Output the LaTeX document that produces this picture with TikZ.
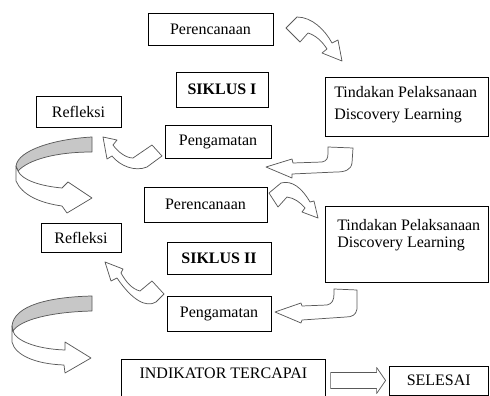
\documentclass[tikz,border=0pt]{standalone}
\usepackage{fontspec}
\setmainfont{Liberation Serif}
\usepackage{tikz}
\tikzset{
	box/.style={draw, line width=0.6pt, inner sep=0pt, font=\fontsize{12pt}{14pt}\selectfont},
	txt/.style={inner sep=0pt, font=\fontsize{12pt}{14pt}\selectfont},
	blockarrow/.style={draw=black!65, fill=white, line width=0.55pt, line join=round},
	backband/.style={draw=black!65, fill=black!22, line width=0.55pt, line join=round}
}

\begin{document}
\begin{tikzpicture}[x=0.75pt, y=-0.75pt]
	\useasboundingbox (0,0) rectangle (490,396);
	\clip (0,0) rectangle (490,396);

	% siklus I
	\node[box, minimum width=93.75pt, minimum height=24pt] (plan1) at (210.5,29) {Perencanaan};
	\node[box, minimum width=69pt, minimum height=26.25pt] (siklus1) at (222,89.5) {\bfseries SIKLUS I};
	\node[box, minimum width=63.75pt, minimum height=23.25pt] (refl1) at (78.5,111.5) {Refleksi};
	\node[box, minimum width=79.5pt, minimum height=24.75pt] (amat1) at (218,141.5) {Pengamatan};
	\node[box, anchor=north west, minimum width=122.6pt, minimum height=44.25pt] (tind1) at (325,77) {};
	\node[txt, anchor=north west, align=left, font={\fontsize{12pt}{16.3pt}\selectfont}] (tindtxt1) at ([shift={(9,9)}]tind1.north west) {Tindakan Pelaksanaan\\Discovery Learning};

	% siklus II
	\node[box, minimum width=92.25pt, minimum height=26.25pt] (plan2) at (205.5,204.5) {Perencanaan};
	\node[box, minimum width=60pt, minimum height=21.75pt] (refl2) at (81,237.5) {Refleksi};
	\node[box, minimum width=78pt, minimum height=24pt] (siklus2) at (219,258) {\bfseries SIKLUS II};
	\node[box, minimum width=78pt, minimum height=26.25pt] (amat2) at (219,313.5) {Pengamatan};
	\node[box, anchor=north west, minimum width=122.6pt, minimum height=57pt] (tind2) at (325,206) {};
	\node[txt, anchor=north west, align=left, font={\fontsize{12pt}{12.6pt}\selectfont}] (tindtxt2) at ([shift={(12,13)}]tind2.north west) {Tindakan Pelaksanaan\\Discovery Learning};

	% akhir
	\node[box, anchor=north west, minimum width=153pt, minimum height=40pt] (indik) at (121,359) {};
	\node[txt] (indiktxt) at ([yshift=-10.5pt]indik.north) {INDIKATOR TERCAPAI};
	\node[box, minimum width=74.6pt, minimum height=21.75pt] (selesai) at (438.75,380.5) {SELESAI};

	% panah
	\draw[blockarrow] (286,28) -- (300,42) -- (308,33) .. controls (315,35) and (322,41) .. (327,49) -- (322,53) -- (342,61) -- (338,40) -- (332,43) .. controls (325,30) and (312,17) .. (297,17) -- cycle;
	\draw[blockarrow] (328,147) -- (353,148) -- (352,163) .. controls (351,170) and (345,172) .. (336,172) -- (292,174) -- (292,178) -- (266,167) -- (292,159) -- (293,163) -- (322,162) .. controls (327,161) and (328,158) .. (328,153) -- cycle;
	\draw[blockarrow] (103,137) -- (117,140) -- (113,145) .. controls (118,152) and (126,158) .. (133,158) -- (152,145) -- (162,156) -- (147,167) .. controls (135,172) and (120,166) .. (112,156) -- (107,159) -- cycle;
	\draw[backband] (92,137) .. controls (55,139) and (18,150) .. (16,166) -- (18,171) .. controls (28,160) and (55,152) .. (92,152) -- cycle;
	\draw[blockarrow] (16,166) -- (16,181) .. controls (22,195) and (40,203) .. (62,206) -- (67,213) -- (92,198) -- (68,182) -- (62,188) .. controls (40,186) and (22,180) .. (18,171) -- cycle;

	\draw[blockarrow] (269,193) -- (278,207) -- (287,197) .. controls (294,198) and (300,202) .. (305,208) -- (302,212) -- (318,218) -- (314,201) -- (310,202) .. controls (302,188) and (292,180) .. (281,183) -- cycle;
	\draw[blockarrow] (334,289) -- (357,290) -- (357,309) .. controls (356,315) and (352,317) .. (346,317) -- (302,320) -- (301,323) -- (275,312) -- (301,303) -- (302,306) -- (327,305) .. controls (332,304) and (334,300) .. (334,294) -- cycle;
	\draw[blockarrow] (105,262) -- (123,269) -- (121,273) .. controls (126,282) and (132,289) .. (140,291) -- (152,281) -- (164,294) -- (156,302) .. controls (146,308) and (132,300) .. (117,278) -- (111,281) -- cycle;
	\draw[backband] (92,296) .. controls (50,297) and (14,305) .. (12,326) -- (13,331) .. controls (20,320) and (50,312) .. (92,311) -- cycle;
	\draw[blockarrow] (12,326) -- (12,342) .. controls (15,355) and (35,364) .. (64,365) -- (65,373) -- (91,358) -- (65,342) -- (65,350) .. controls (35,349) and (15,340) .. (13,331) -- cycle;

	\draw[blockarrow, shift={(selesai.west)}] (-58,-8) -- (-12,-8) -- (-12,-13) -- (-3,0) -- (-12,13) -- (-12,8) -- (-58,8) -- cycle;
\end{tikzpicture}
\end{document}
